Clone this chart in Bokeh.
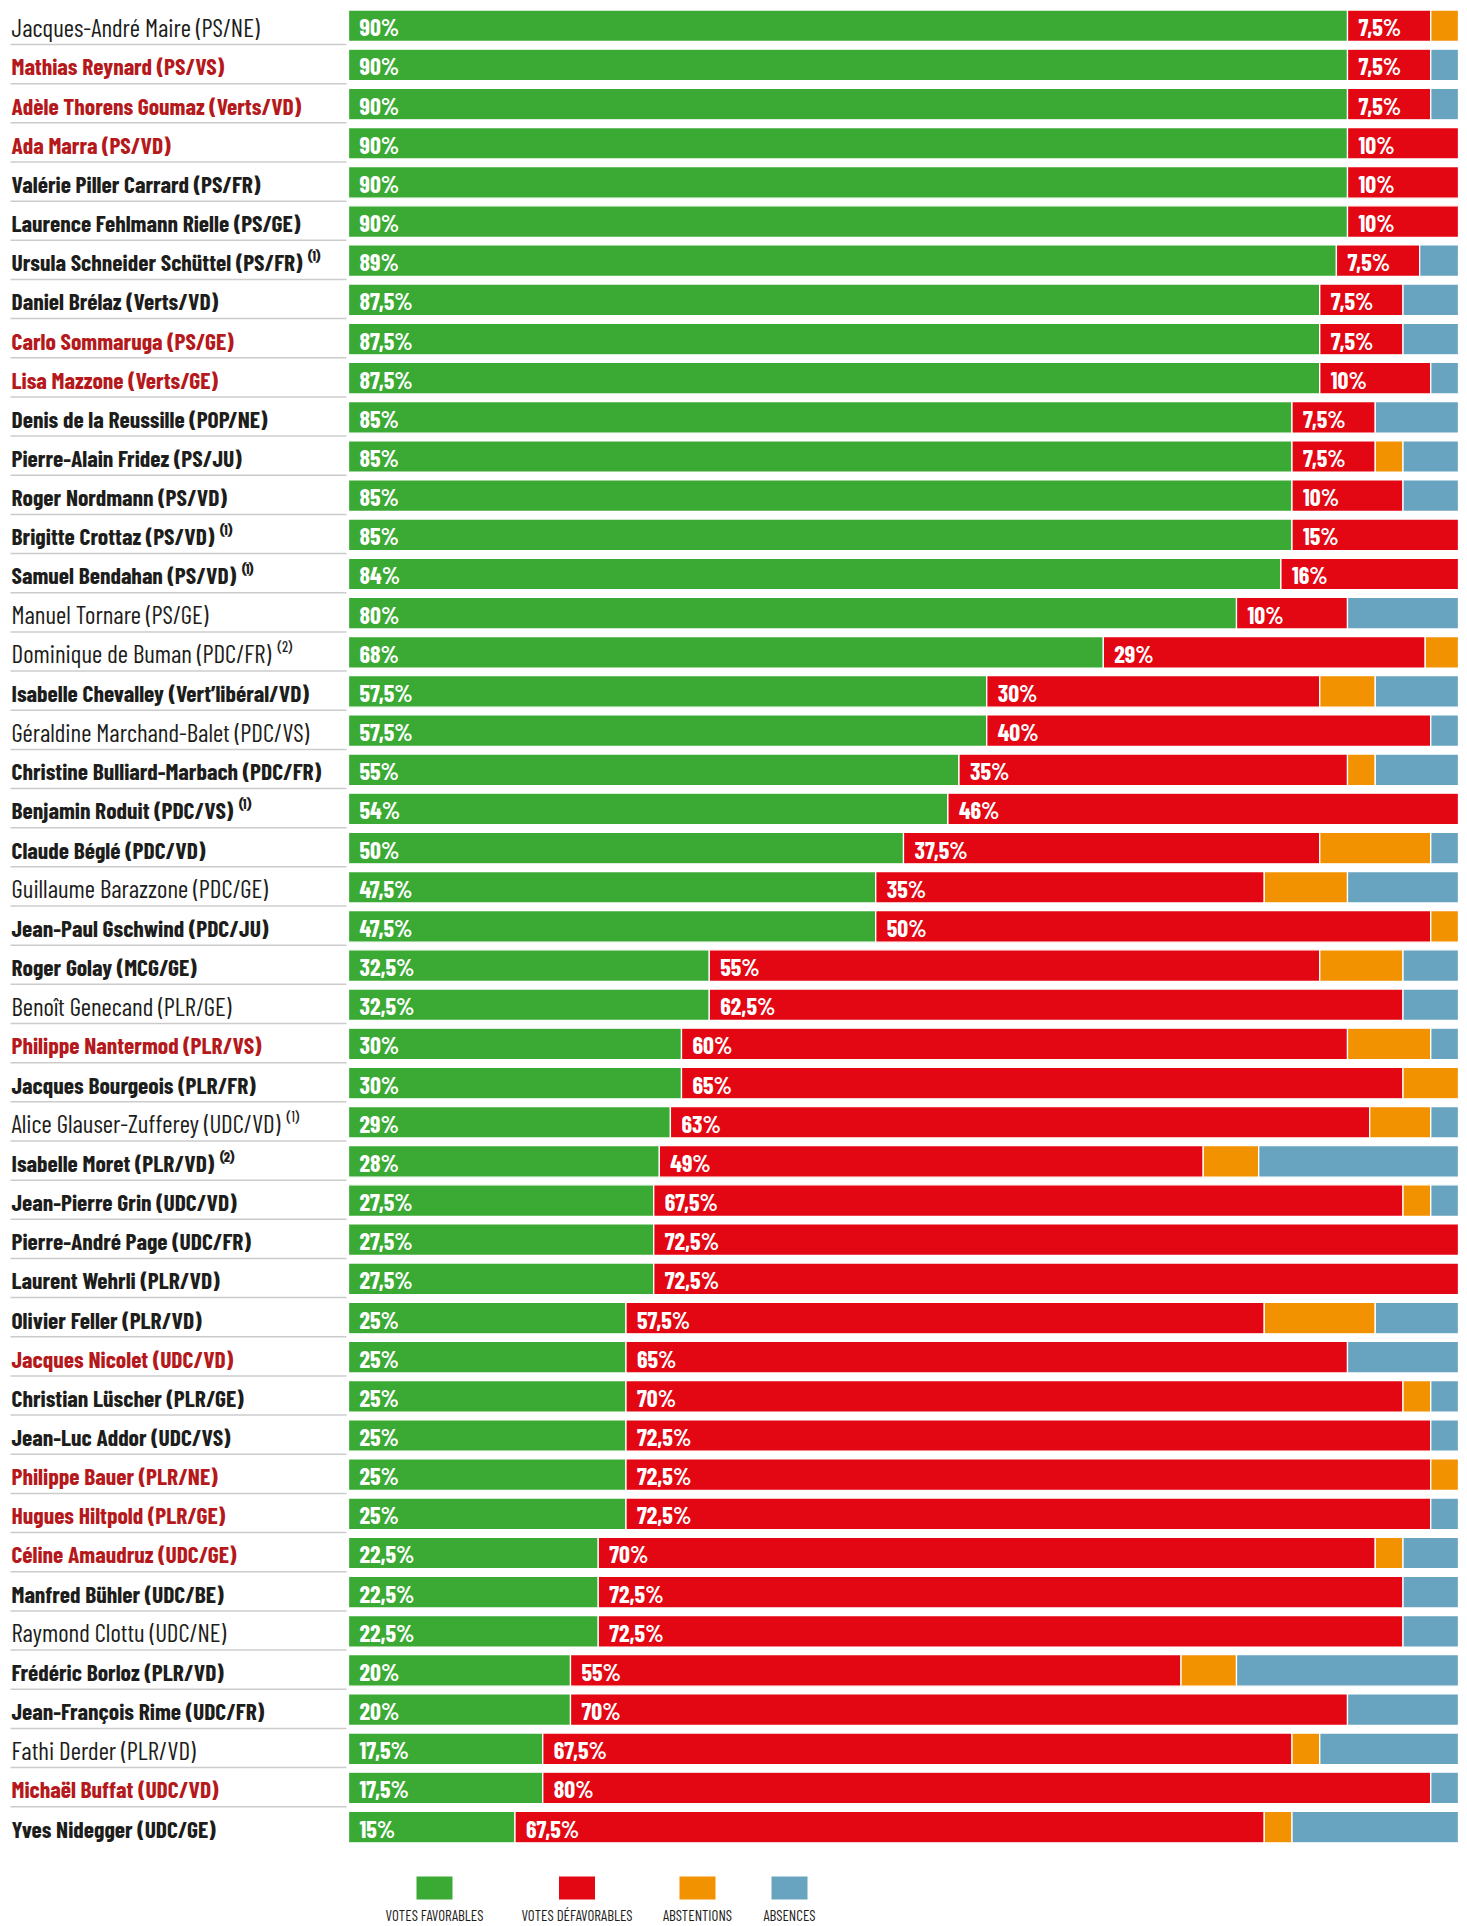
import numpy as np
from bokeh.plotting import figure
from bokeh.models import ColumnDataSource, Range1d
from bokeh.core.properties import value
from bokeh.embed import file_html
from bokeh.resources import INLINE

# ---------------- data ----------------
names = [
    "Jacques-André Maire (PS/NE)", "Mathias Reynard (PS/VS)", "Adèle Thorens Goumaz (Verts/VD)",
    "Ada Marra (PS/VD)", "Valérie Piller Carrard (PS/FR)", "Laurence Fehlmann Rielle (PS/GE)",
    "Ursula Schneider Schüttel (PS/FR)", "Daniel Brélaz (Verts/VD)", "Carlo Sommaruga (PS/GE)",
    "Lisa Mazzone (Verts/GE)", "Denis de la Reussille (POP/NE)", "Pierre-Alain Fridez (PS/JU)",
    "Roger Nordmann (PS/VD)", "Brigitte Crottaz (PS/VD)", "Samuel Bendahan (PS/VD)",
    "Manuel Tornare (PS/GE)", "Dominique de Buman (PDC/FR)", "Isabelle Chevalley (Vert’libéral/VD)",
    "Géraldine Marchand-Balet (PDC/VS)", "Christine Bulliard-Marbach (PDC/FR)", "Benjamin Roduit (PDC/VS)",
    "Claude Béglé (PDC/VD)", "Guillaume Barazzone (PDC/GE)", "Jean-Paul Gschwind (PDC/JU)",
    "Roger Golay (MCG/GE)", "Benoît Genecand (PLR/GE)", "Philippe Nantermod (PLR/VS)",
    "Jacques Bourgeois (PLR/FR)", "Alice Glauser-Zufferey (UDC/VD)", "Isabelle Moret (PLR/VD)",
    "Jean-Pierre Grin (UDC/VD)", "Pierre-André Page (UDC/FR)", "Laurent Wehrli (PLR/VD)",
    "Olivier Feller (PLR/VD)", "Jacques Nicolet (UDC/VD)", "Christian Lüscher (PLR/GE)",
    "Jean-Luc Addor (UDC/VS)", "Philippe Bauer (PLR/NE)", "Hugues Hiltpold (PLR/GE)",
    "Céline Amaudruz  (UDC/GE)", "Manfred Bühler (UDC/BE)", "Raymond Clottu (UDC/NE)",
    "Frédéric Borloz (PLR/VD)", "Jean-François Rime (UDC/FR)", "Fathi Derder (PLR/VD)",
    "Michaël Buffat (UDC/VD)", "Yves Nidegger (UDC/GE)",
]
# footnote markers
notes = ["", "", "", "", "", "", "1", "", "", "", "", "", "", "1", "1", "", "2", "", "", "", "1",
         "", "", "", "", "", "", "", "1", "2", "", "", "", "", "", "", "", "", "", "", "", "", "",
         "", "", "", ""]
# name style: b = bold black, n = regular black, r = bold red
styles = ["n", "r", "r", "r", "b", "b", "b", "b", "r", "r", "b", "b", "b", "b", "b", "n", "n", "b",
          "n", "b", "b", "b", "n", "b", "b", "n", "r", "b", "n", "b", "b", "b", "b", "b", "r", "b",
          "b", "r", "r", "r", "b", "n", "b", "b", "n", "r", "b"]

favorables = [90, 90, 90, 90, 90, 90, 89, 87.5, 87.5, 87.5, 85, 85, 85, 85, 84, 80, 68, 57.5, 57.5,
              55, 54, 50, 47.5, 47.5, 32.5, 32.5, 30, 30, 29, 28, 27.5, 27.5, 27.5, 25, 25, 25, 25,
              25, 25, 22.5, 22.5, 22.5, 20, 20, 17.5, 17.5, 15]
defavorables = [7.5, 7.5, 7.5, 10, 10, 10, 7.5, 7.5, 7.5, 10, 7.5, 7.5, 10, 15, 16, 10, 29, 30, 40,
                35, 46, 37.5, 35, 50, 55, 62.5, 60, 65, 63, 49, 67.5, 72.5, 72.5, 57.5, 65, 70,
                72.5, 72.5, 72.5, 70, 72.5, 72.5, 55, 70, 67.5, 80, 67.5]
abstentions = [2.5, 0, 0, 0, 0, 0, 0, 0, 0, 0, 0, 2.5, 0, 0, 0, 0, 3, 5, 0, 2.5, 0, 10, 7.5, 2.5,
               7.5, 0, 7.5, 5, 5.5, 5, 2.5, 0, 0, 10, 0, 2.5, 0, 2.5, 0, 2.5, 0, 0, 5, 0, 2.5, 0,
               2.5]
absences = [0, 2.5, 2.5, 0, 0, 0, 3.5, 5, 5, 2.5, 7.5, 5, 5, 0, 0, 10, 0, 7.5, 2.5, 7.5, 0, 2.5, 10,
            0, 5, 5, 2.5, 0, 2.5, 18, 2.5, 0, 0, 7.5, 10, 2.5, 2.5, 0, 2.5, 5, 5, 5, 20, 10, 12.5,
            2.5, 15]

legend_labels = ["VOTES FAVORABLES", "VOTES DÉFAVORABLES", "ABSTENTIONS", "ABSENCES"]
colors = ["#3aaa35", "#e30613", "#f39200", "#68a3bf"]

# ---------------- layout (page pixels) ----------------
W, H = 1467, 1926
X0 = 348.0          # pixel of 0 %
PX_PER_PCT = 11.1   # pixel per %
Y0 = 25.25          # pixel centre of first row
ROW = 39.16         # row pitch (px)

def px_x(px):
    return (px - X0) / PX_PER_PCT

def px_y(py):
    return (py - Y0) / ROW

FONT = "Barlow Condensed"

p = figure(width=W, height=H, output_backend="svg", toolbar_location=None,
           x_range=Range1d(px_x(0), px_x(W)), y_range=Range1d(px_y(H), px_y(0)),
           min_border=0, outline_line_color=None)
p.axis.visible = False
p.grid.visible = False
p.background_fill_color = "white"
p.border_fill_color = "white"

n = len(names)
rows = np.arange(n)
vals = np.array([favorables, defavorables, abstentions, absences], dtype=float)
cum = np.cumsum(vals, axis=0)
lefts = cum - vals

for k in range(4):
    mask = vals[k] > 0
    src = ColumnDataSource(dict(y=rows[mask], left=lefts[k][mask], right=cum[k][mask]))
    p.hbar(y="y", left="left", right="right", height=31.5 / ROW, source=src,
           fill_color=colors[k], line_color="white", line_width=1.3)

def fmt(v):
    if float(v).is_integer():
        return f"{int(v)}%"
    return f"{v:.1f}".replace(".", ",") + "%"

for k in range(2):
    src = ColumnDataSource(dict(x=lefts[k], y=rows, t=[fmt(v) for v in vals[k]]))
    p.text(x="x", y="y", text="t", source=src, x_offset=11, y_offset=1,
           text_font=value(FONT), text_font_style="bold", text_font_size="24px",
           text_color="white", text_baseline="middle", text_align="left")

# separators
sep_y = rows[:-1] + (44.0 - 25.25) / ROW
p.segment(x0=px_x(10), x1=px_x(346), y0=sep_y, y1=sep_y,
          line_color="#cccccc", line_width=1.5)

sup = {"1": "⁽¹⁾", "2": "⁽²⁾"}
style_map = {"b": ("bold", "#1d1d1b", "23.5px"), "n": ("normal", "#1d1d1b", "25px"),
             "r": ("bold", "#b5191b", "23.5px")}
for s, (fs, col, size) in style_map.items():
    idx = [i for i in range(n) if styles[i] == s]
    texts = [names[i] + ((" " + sup[notes[i]]) if notes[i] else "") for i in idx]
    src = ColumnDataSource(dict(x=[px_x(11)] * len(idx), y=[float(i) for i in idx], t=texts))
    p.text(x="x", y="y", text="t", source=src, y_offset=1,
           text_font=value(FONT), text_font_style=fs, text_font_size=size,
           text_color=col, text_baseline="middle", text_align="left")

# legend
leg_cx = [434, 576.5, 697, 789]
for k in range(4):
    p.rect(x=px_x(leg_cx[k]), y=px_y(1887.5), width=36 / PX_PER_PCT, height=23 / ROW,
           fill_color=colors[k], line_color=None)
p.text(x=[px_x(c) for c in leg_cx], y=[px_y(1905)] * 4, text=legend_labels,
       text_font=value(FONT), text_font_size="15px", text_color="#1d1d1b",
       text_baseline="top", text_align="center")

open("out.html", "w").write(file_html(p, INLINE))
